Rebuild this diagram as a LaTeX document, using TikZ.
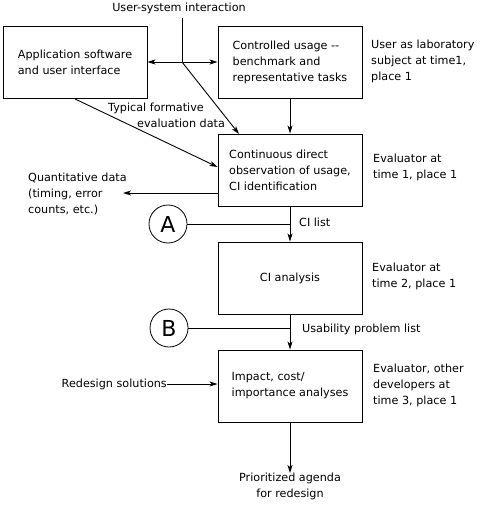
\documentclass[tikz,border=0pt]{standalone}
\usepackage{fontspec}
\setmainfont{DejaVu Sans}
\usetikzlibrary{arrows.meta}
\begin{document}
\begin{tikzpicture}[x=1pt,y=-1pt,
  box/.style={draw, line width=0.9pt, minimum width=144pt, minimum height=72pt, inner sep=0pt, align=left, font=\fontsize{11.2}{16}\selectfont},
  lbl/.style={font=\fontsize{11.2}{16}\selectfont, align=left, inner sep=0pt},
  arr/.style={line width=0.9pt, -{Stealth[length=8pt,width=5pt,inset=2pt]}},
  conn/.style={line width=0.9pt},
  circ/.style={draw, line width=0.8pt, circle, minimum size=38pt, inner sep=0pt, font=\fontsize{22}{22}\selectfont}]
\useasboundingbox (0,0) rectangle (494,505);
% boxes
\node[box] (app) at (75,62.5) {Application software\\and user interface};
\node[box] (ctl) at (290,62.5) {Controlled usage -{}-\\benchmark and\\representative tasks};
\node[box] (cont) at (290,170) {Continuous direct\\observation of usage,\\CI identification};
\node[box, align=center] (ci) at (290,278) {CI analysis};
\node[box] (imp) at (290,386) {Impact, cost/\\importance analyses};
% circles
\node[circ] (A) at (168,224) {A};
\node[circ] (B) at (169,328) {B};
% labels
\node[lbl, anchor=center] (usi) at (179,8) {User-system interaction};
\node[lbl, anchor=west] (r1) at (371,61.5) {User as laboratory\\subject at time1,\\place 1};
\node[lbl, anchor=west] (r2) at (373,167) {Evaluator at\\time 1, place 1};
\node[lbl, anchor=west] (r3) at (372,276) {Evaluator at\\time 2, place 1};
\node[lbl, anchor=west] (r4) at (373,385) {Evaluator, other\\developers at\\time 3, place 1};
\node[lbl, anchor=west] (tfe) at (108,115.5) {Typical formative\\\hspace{29pt}evaluation data};
\node[lbl, anchor=west] (quant) at (28,193.5) {Quantitative data\\(timing, error\\counts, etc.)};
\node[lbl, anchor=west] (cil) at (299,222) {CI list};
\node[lbl, anchor=west] (upl) at (302,329) {Usability problem list};
\node[lbl, anchor=east] (redes) at (167,384) {Redesign solutions};
\node[lbl, align=center, anchor=north] (prio) at (290,473) {Prioritized agenda\\for redesign};
% coordinates
\coordinate (jt) at (182,18);
\coordinate (j) at (182,62);
\coordinate (ct) at (239,134);
\coordinate (qe) at (123,193);
% connectors
\draw[conn] (jt) -- (j);
\draw[arr] (j) -- (app.east |- j);
\draw[arr] (j) -- (ctl.west |- j);
\draw[arr] (j) -- (ct);
\draw[arr] (app.south) -- ([yshift=3pt]cont.west);
\draw[arr] (ctl.south) -- (cont.north);
\draw[arr] ([yshift=-23pt]cont.west) -- (qe);
\draw[arr] (cont.south) -- (ci.north);
\draw[conn] (A.east) -- (A.east -| cont.south);
\draw[arr] (ci.south) -- (imp.north);
\draw[conn] (B.east) -- (B.east -| ci.south);
\draw[arr] (redes.east) -- (redes.east -| imp.west);
\draw[arr] (imp.south) -- (prio.north);
\end{tikzpicture}
\end{document}
